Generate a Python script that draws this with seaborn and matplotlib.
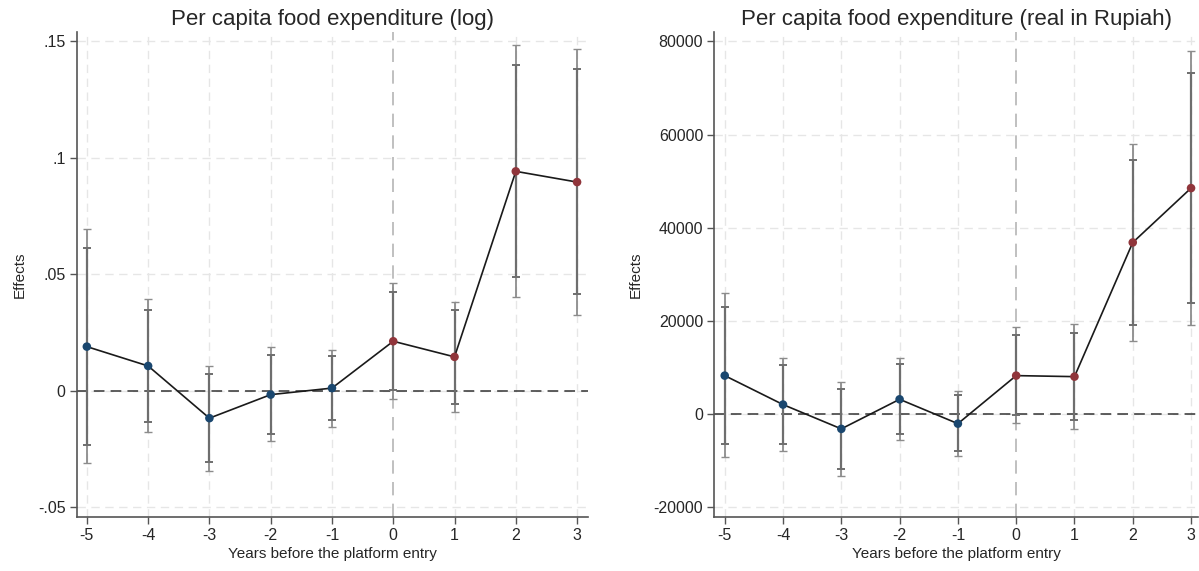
import numpy as np
import pandas as pd
import matplotlib
matplotlib.use("Agg")
import matplotlib.pyplot as plt
import seaborn as sns

### Event-study estimates

years = [-5, -4, -3, -2, -1, 0, 1, 2, 3]

# Per capita food expenditure (log)
log_coef = [0.019, 0.0107, -0.0117, -0.0016, 0.0012, 0.0213, 0.0146, 0.0942, 0.0896]
log_hi95 = [0.0693, 0.0394, 0.0108, 0.0189, 0.0177, 0.0462, 0.0383, 0.1483, 0.1469]
log_lo95 = [-0.031, -0.0177, -0.0343, -0.0217, -0.0153, -0.0036, -0.0091, 0.0402, 0.0326]
log_hi90 = [0.0614, 0.0349, 0.0074, 0.0156, 0.015, 0.0423, 0.0347, 0.1397, 0.1379]
log_lo90 = [-0.0231, -0.0134, -0.0307, -0.0186, -0.0127, 0.0004, -0.0056, 0.0487, 0.0414]

# Per capita food expenditure (real in Rupiah)
rp_coef = [8220, 2000, -3220, 3130, -2100, 8220, 8000, 36820, 48500]
rp_hi95 = [25880, 12020, 6930, 12020, 4850, 18590, 19230, 57940, 77900]
rp_lo95 = [-9230, -7940, -13390, -5670, -9100, -2020, -3220, 15730, 19160]
rp_hi90 = [23030, 10430, 5430, 10640, 3990, 16870, 17450, 54640, 73240]
rp_lo90 = [-6440, -6370, -11740, -4230, -8030, -300, -1370, 19010, 23730]

log_ticks = [-0.05, 0, 0.05, 0.1, 0.15]
log_ticklabels = ["-.05", "0", ".05", ".1", ".15"]
rp_ticks = [-20000, 0, 20000, 40000, 60000, 80000]
rp_ticklabels = ["-20000", "0", "20000", "40000", "60000", "80000"]

titles = ["Per capita food expenditure (log)",
          "Per capita food expenditure (real in Rupiah)"]

sns.set_style("white")
plt.rcParams['font.family'] = ['Liberation Sans', 'DejaVu Sans']

PRE_COLOR = "#1a476f"
POST_COLOR = "#90353b"


def event_panel(ax, coef, lo95, hi95, lo90, hi90, ticks, ticklabels, title, ylim, xlim):
    df = pd.DataFrame({'year': years, 'coef': coef,
                       'period': ['pre' if y < 0 else 'post' for y in years]})

    # grid
    for t in ticks:
        ax.axhline(t, color="#e6e6e6", lw=1, ls=(0, (6, 4)), zorder=0)
    for y in years:
        if y == 0:
            ax.axvline(y, color="#b5b5b5", lw=1.2, ls=(0, (8, 5)), zorder=0)
        else:
            ax.axvline(y, color="#e6e6e6", lw=1, ls=(0, (6, 4)), zorder=0)
    ax.axhline(0, color="#333333", lw=1.1, ls=(0, (7, 4)), zorder=1)

    # confidence intervals (95% outer, 90% inner)
    c = np.array(coef)
    ax.errorbar(years, c, yerr=[c - np.array(lo95), np.array(hi95) - c], fmt='none',
                ecolor="#8c8c8c", elinewidth=1.3, capsize=3, capthick=1, zorder=2)
    ax.errorbar(years, c, yerr=[c - np.array(lo90), np.array(hi90) - c], fmt='none',
                ecolor="#6e6e6e", elinewidth=1.6, capsize=3, capthick=1.4, zorder=2)

    sns.lineplot(data=df, x='year', y='coef', color="#1a1a1a", lw=1.2, ax=ax, zorder=3)
    sns.scatterplot(data=df, x='year', y='coef', hue='period',
                    palette={'pre': PRE_COLOR, 'post': POST_COLOR},
                    s=38, edgecolor='none', legend=False, ax=ax, zorder=4)

    ax.set_xlim(*xlim)
    ax.set_ylim(*ylim)
    ax.set_xticks(years)
    ax.set_xticklabels([str(y) for y in years], fontsize=11.5)
    ax.set_yticks(ticks)
    ax.set_yticklabels(ticklabels, fontsize=11.5)
    ax.tick_params(axis='both', direction='out', length=5, width=1, color="#555555",
                   left=True, bottom=True, pad=3)
    sns.despine(ax=ax)
    for side in ['left', 'bottom']:
        ax.spines[side].set_color("#555555")
        ax.spines[side].set_linewidth(1.2)
    ax.set_xlabel("Years before the platform entry", fontsize=11, labelpad=3)
    ax.set_ylabel("Effects", fontsize=11, labelpad=8)
    ax.set_title(title, fontsize=16, pad=5)


fig = plt.figure(figsize=(11.99, 5.71), dpi=100)
ax1 = fig.add_axes([0.064, 0.095, 0.4265, 0.849])
ax2 = fig.add_axes([0.5957, 0.095, 0.4035, 0.849])

event_panel(ax1, log_coef, log_lo95, log_hi95, log_lo90, log_hi90,
            log_ticks, log_ticklabels, titles[0], (-0.054, 0.154), (-5.165, 3.18))
event_panel(ax2, rp_coef, rp_lo95, rp_hi95, rp_lo90, rp_hi90,
            rp_ticks, rp_ticklabels, titles[1], (-22100, 82040), (-5.18, 3.12))

fig.savefig("out.png", dpi=100)
